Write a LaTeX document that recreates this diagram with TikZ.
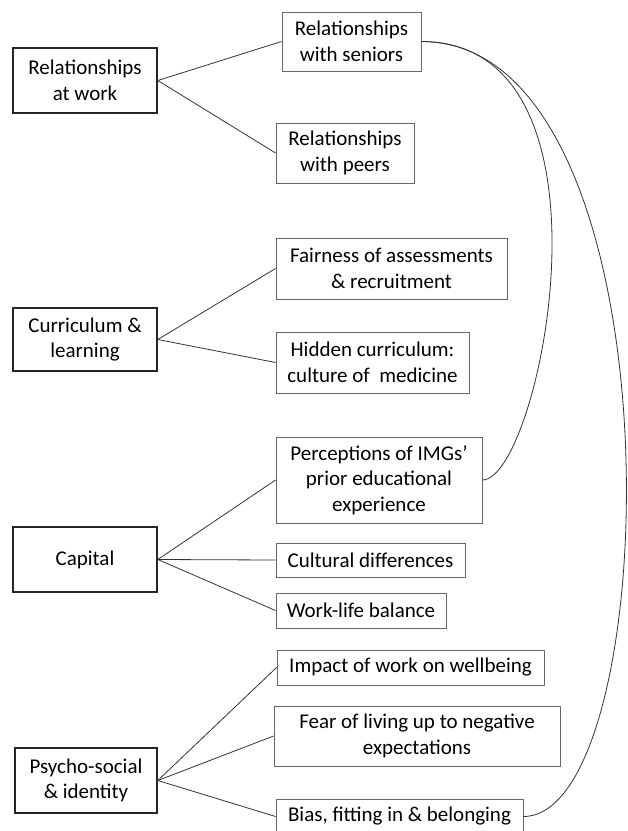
\documentclass[tikz,border=0pt]{standalone}
\usepackage{fontspec}
\setmainfont{Carlito}
\begin{document}
\begin{tikzpicture}[x=1pt,y=-1pt,
  every node/.style={font=\fontsize{21}{25.5}\selectfont, text=black, align=center, inner sep=0pt},
  mainbox/.style={draw=black!85, line width=1.6pt},
  subbox/.style={draw=black!60, line width=0.9pt},
  link/.style={draw=black!80, line width=0.8pt}]
\useasboundingbox (0,0) rectangle (628,831);
% main boxes
\node[mainbox, minimum width=144, minimum height=65] (raw) at (85,80.5) {Relationships\\at work};
\node[mainbox, minimum width=144, minimum height=63] (cl) at (85,339.5) {Curriculum \&\\learning};
\node[mainbox, minimum width=144, minimum height=65] (cap) at (85,559.5) {Capital};
\node[mainbox, minimum width=142, minimum height=65] (psi) at (86,780.5) {Psycho-social\\\& identity};
% sub boxes
\node[subbox, minimum width=139, minimum height=59] (rws) at (351.5,41.5) {Relationships\\with seniors};
\node[subbox, minimum width=138, minimum height=60] (rwp) at (345,153) {Relationships\\with peers};
\node[subbox, minimum width=231, minimum height=61] (foa) at (391.5,268.5) {Fairness of assessments\\\& recruitment};
\node[subbox, minimum width=193, minimum height=61] (hc) at (372.5,362.5) {Hidden curriculum:\\culture of\ \ medicine};
\node[subbox, minimum width=206, minimum height=86] (poi) at (379,480) {Perceptions of IMGs’\\prior educational\\experience};
\node[subbox, minimum width=189, minimum height=34] (cd) at (370.5,560) {Cultural differences};
\node[subbox, minimum width=170, minimum height=35] (wlb) at (361,610.5) {Work-life balance};
\node[subbox, minimum width=267, minimum height=35] (iow) at (410.5,667.5) {Impact of work on wellbeing};
\node[subbox, minimum width=286, minimum height=60] (fear) at (417,736) {Fear of living up to negative\\expectations};
\node[subbox, minimum width=247, minimum height=35] (bias) at (399.5,816.5) {Bias, fitting in \& belonging};
% connectors
\draw[link] (raw.east) -- (rws.west);
\draw[link] (raw.east) -- (rwp.west);
\draw[link] (cl.east) -- (foa.west);
\draw[link] (cl.east) -- (hc.west);
\draw[link] (cap.east) -- (poi.west);
\draw[link] (cap.east) -- (cd.west);
\draw[link] (cap.east) -- (wlb.west);
\draw[link] (psi.east) -- (iow.west);
\draw[link] (psi.east) -- (fear.west);
\draw[link] (psi.east) -- (bias.west);
% curves
\draw[link] (rws.east) .. controls (630,42) and (540,480) .. (poi.east);
\draw[link] (rws.east) .. controls (684,42) and (667,816) .. (bias.east);
\end{tikzpicture}
\end{document}
